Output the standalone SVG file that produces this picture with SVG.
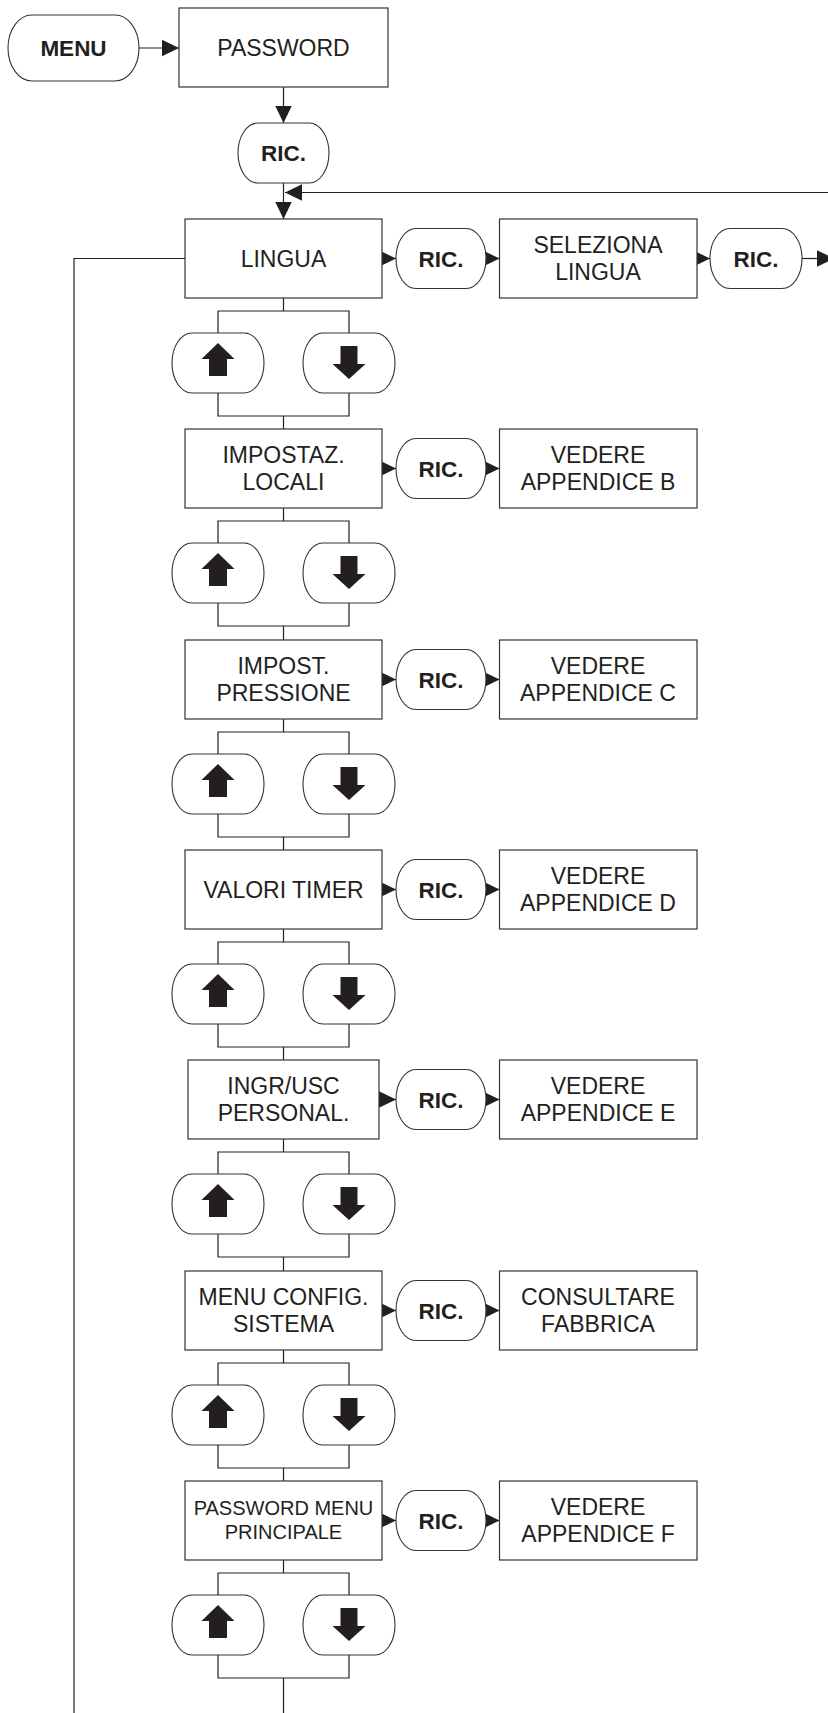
<svg xmlns="http://www.w3.org/2000/svg" width="828" height="1713" viewBox="0 0 828 1713">
<style>
.box{fill:#fff;stroke:#333;stroke-width:1.2}
.pill{fill:#fff;stroke:#333;stroke-width:1.1}
.t{font-family:"Liberation Sans",Arial,sans-serif;font-size:23px;fill:#231f20;text-anchor:middle}
.b{font-weight:bold;font-size:22.5px}
.s{font-size:20px}
.ln{fill:none;stroke:#231f20;stroke-width:1.2}
.ar{marker-end:url(#ah)}
.g{fill:#231f20}
</style>
<defs>
<marker id="ah" markerUnits="userSpaceOnUse" markerWidth="17" markerHeight="17" viewBox="0 0 15.5 15" refX="15.5" refY="7.5" orient="auto"><path d="M0,0L15.5,7.5L0,15z" fill="#231f20"/></marker>
<path id="up" d="M0,-20L16.5,-4L9,-4L9,13L-9,13L-9,-4L-16.5,-4Z"/>
<path id="dn" d="M-8.5,-17L8.5,-17L8.5,1L16.5,1L0,16L-16.5,1L-8.5,1Z"/>
</defs>

<g id="connectors">
<line class="ln ar" x1="139" y1="48" x2="179" y2="48"/>
<line class="ln ar" x1="283.5" y1="87" x2="283.5" y2="123"/>
<line class="ln ar" x1="283.5" y1="183" x2="283.5" y2="219"/>
<line class="ln ar" x1="828" y1="192.5" x2="285" y2="192.5"/>
<polyline class="ln" points="185,258.5 74,258.5 74,1713"/>
<line class="ln ar" x1="697" y1="258.5" x2="710" y2="258.5"/>
<line class="ln ar" x1="802" y1="258.5" x2="834" y2="258.5"/>
<line class="ln ar" x1="382" y1="258.5" x2="396" y2="258.5"/>
<line class="ln ar" x1="486" y1="258.5" x2="499.5" y2="258.5"/>
<line class="ln ar" x1="382" y1="468.5" x2="396" y2="468.5"/>
<line class="ln ar" x1="486" y1="468.5" x2="499.5" y2="468.5"/>
<line class="ln ar" x1="382" y1="679.5" x2="396" y2="679.5"/>
<line class="ln ar" x1="486" y1="679.5" x2="499.5" y2="679.5"/>
<line class="ln ar" x1="382" y1="889.5" x2="396" y2="889.5"/>
<line class="ln ar" x1="486" y1="889.5" x2="499.5" y2="889.5"/>
<line class="ln ar" x1="379" y1="1099.5" x2="396" y2="1099.5"/>
<line class="ln ar" x1="486" y1="1099.5" x2="499.5" y2="1099.5"/>
<line class="ln ar" x1="382" y1="1310.5" x2="396" y2="1310.5"/>
<line class="ln ar" x1="486" y1="1310.5" x2="499.5" y2="1310.5"/>
<line class="ln ar" x1="382" y1="1520.5" x2="396" y2="1520.5"/>
<line class="ln ar" x1="486" y1="1520.5" x2="499.5" y2="1520.5"/>
<path class="ln" d="M283.5,298V311M218,333V311H349V333M218,393V416H349V393M283.5,416V429"/>
<path class="ln" d="M283.5,508V521M218,543V521H349V543M218,603V626H349V603M283.5,626V640"/>
<path class="ln" d="M283.5,719V732M218,754V732H349V754M218,814V837H349V814M283.5,837V850"/>
<path class="ln" d="M283.5,929V942M218,964V942H349V964M218,1024V1047H349V1024M283.5,1047V1060"/>
<path class="ln" d="M283.5,1139V1152M218,1174V1152H349V1174M218,1234V1257H349V1234M283.5,1257V1271"/>
<path class="ln" d="M283.5,1350V1363M218,1385V1363H349V1385M218,1445V1468H349V1445M283.5,1468V1481"/>
<path class="ln" d="M283.5,1560V1573M218,1595V1573H349V1595M218,1655V1678H349V1655M283.5,1678V1713"/>
</g>

<g id="menu"><rect class="pill" x="8" y="15" width="131" height="66" rx="24" ry="33"/><text class="t b" x="73.5" y="56">MENU</text></g>
<g id="password"><rect class="box" x="179" y="8" width="209" height="79"/><text class="t" x="283.5" y="56">PASSWORD</text></g>
<g id="ric-top"><rect class="pill" x="238" y="123" width="91" height="60" rx="20" ry="30"/><text class="t b" x="283.5" y="161">RIC.</text></g>

<g id="lingua"><rect class="box" x="185" y="219" width="197" height="79"/><text class="t" x="283.5" y="266.5">LINGUA</text></g>
<g id="ric-0"><rect class="pill" x="396" y="228.5" width="90" height="60" rx="20" ry="30"/><text class="t b" x="441" y="266.5">RIC.</text></g>
<g id="seleziona"><rect class="box" x="499.5" y="219" width="197.5" height="79"/><text class="t" x="598" y="252.5">SELEZIONA</text><text class="t" x="598" y="279.5">LINGUA</text></g>
<g id="ric-0b"><rect class="pill" x="710" y="228.5" width="92" height="60" rx="20" ry="30"/><text class="t b" x="756" y="266.5">RIC.</text></g>
<g id="updown-0"><rect class="pill" x="172" y="333" width="92" height="60" rx="20" ry="30"/><rect class="pill" x="303" y="333" width="92" height="60" rx="20" ry="30"/><use href="#up" class="g" x="218" y="363"/><use href="#dn" class="g" x="349" y="363"/></g>

<g id="impostaz"><rect class="box" x="185" y="429" width="197" height="79"/><text class="t" x="283.5" y="462.5">IMPOSTAZ.</text><text class="t" x="283.5" y="489.5">LOCALI</text></g>
<g id="ric-1"><rect class="pill" x="396" y="438.5" width="90" height="60" rx="20" ry="30"/><text class="t b" x="441" y="476.5">RIC.</text></g>
<g id="app-b"><rect class="box" x="499.5" y="429" width="197.5" height="79"/><text class="t" x="598" y="462.5">VEDERE</text><text class="t" x="598" y="489.5">APPENDICE B</text></g>
<g id="updown-1"><rect class="pill" x="172" y="543" width="92" height="60" rx="20" ry="30"/><rect class="pill" x="303" y="543" width="92" height="60" rx="20" ry="30"/><use href="#up" class="g" x="218" y="573"/><use href="#dn" class="g" x="349" y="573"/></g>

<g id="impost-press"><rect class="box" x="185" y="640" width="197" height="79"/><text class="t" x="283.5" y="673.5">IMPOST.</text><text class="t" x="283.5" y="700.5">PRESSIONE</text></g>
<g id="ric-2"><rect class="pill" x="396" y="649.5" width="90" height="60" rx="20" ry="30"/><text class="t b" x="441" y="687.5">RIC.</text></g>
<g id="app-c"><rect class="box" x="499.5" y="640" width="197.5" height="79"/><text class="t" x="598" y="673.5">VEDERE</text><text class="t" x="598" y="700.5">APPENDICE C</text></g>
<g id="updown-2"><rect class="pill" x="172" y="754" width="92" height="60" rx="20" ry="30"/><rect class="pill" x="303" y="754" width="92" height="60" rx="20" ry="30"/><use href="#up" class="g" x="218" y="784"/><use href="#dn" class="g" x="349" y="784"/></g>

<g id="valori-timer"><rect class="box" x="185" y="850" width="197" height="79"/><text class="t" x="283.5" y="897.5">VALORI TIMER</text></g>
<g id="ric-3"><rect class="pill" x="396" y="859.5" width="90" height="60" rx="20" ry="30"/><text class="t b" x="441" y="897.5">RIC.</text></g>
<g id="app-d"><rect class="box" x="499.5" y="850" width="197.5" height="79"/><text class="t" x="598" y="883.5">VEDERE</text><text class="t" x="598" y="910.5">APPENDICE D</text></g>
<g id="updown-3"><rect class="pill" x="172" y="964" width="92" height="60" rx="20" ry="30"/><rect class="pill" x="303" y="964" width="92" height="60" rx="20" ry="30"/><use href="#up" class="g" x="218" y="994"/><use href="#dn" class="g" x="349" y="994"/></g>

<g id="ingr-usc"><rect class="box" x="188" y="1060" width="191" height="79"/><text class="t" x="283.5" y="1093.5">INGR/USC</text><text class="t" x="283.5" y="1120.5">PERSONAL.</text></g>
<g id="ric-4"><rect class="pill" x="396" y="1069.5" width="90" height="60" rx="20" ry="30"/><text class="t b" x="441" y="1107.5">RIC.</text></g>
<g id="app-e"><rect class="box" x="499.5" y="1060" width="197.5" height="79"/><text class="t" x="598" y="1093.5">VEDERE</text><text class="t" x="598" y="1120.5">APPENDICE E</text></g>
<g id="updown-4"><rect class="pill" x="172" y="1174" width="92" height="60" rx="20" ry="30"/><rect class="pill" x="303" y="1174" width="92" height="60" rx="20" ry="30"/><use href="#up" class="g" x="218" y="1204"/><use href="#dn" class="g" x="349" y="1204"/></g>

<g id="menu-config"><rect class="box" x="185" y="1271" width="197" height="79"/><text class="t" x="283.5" y="1304.5">MENU CONFIG.</text><text class="t" x="283.5" y="1331.5">SISTEMA</text></g>
<g id="ric-5"><rect class="pill" x="396" y="1280.5" width="90" height="60" rx="20" ry="30"/><text class="t b" x="441" y="1318.5">RIC.</text></g>
<g id="fabbrica"><rect class="box" x="499.5" y="1271" width="197.5" height="79"/><text class="t" x="598" y="1304.5">CONSULTARE</text><text class="t" x="598" y="1331.5">FABBRICA</text></g>
<g id="updown-5"><rect class="pill" x="172" y="1385" width="92" height="60" rx="20" ry="30"/><rect class="pill" x="303" y="1385" width="92" height="60" rx="20" ry="30"/><use href="#up" class="g" x="218" y="1415"/><use href="#dn" class="g" x="349" y="1415"/></g>

<g id="password-menu"><rect class="box" x="185" y="1481" width="197" height="79"/><text class="t s" x="283.5" y="1514.5">PASSWORD MENU</text><text class="t s" x="283.5" y="1538.5">PRINCIPALE</text></g>
<g id="ric-6"><rect class="pill" x="396" y="1490.5" width="90" height="60" rx="20" ry="30"/><text class="t b" x="441" y="1528.5">RIC.</text></g>
<g id="app-f"><rect class="box" x="499.5" y="1481" width="197.5" height="79"/><text class="t" x="598" y="1514.5">VEDERE</text><text class="t" x="598" y="1541.5">APPENDICE F</text></g>
<g id="updown-6"><rect class="pill" x="172" y="1595" width="92" height="60" rx="20" ry="30"/><rect class="pill" x="303" y="1595" width="92" height="60" rx="20" ry="30"/><use href="#up" class="g" x="218" y="1625"/><use href="#dn" class="g" x="349" y="1625"/></g>
</svg>
